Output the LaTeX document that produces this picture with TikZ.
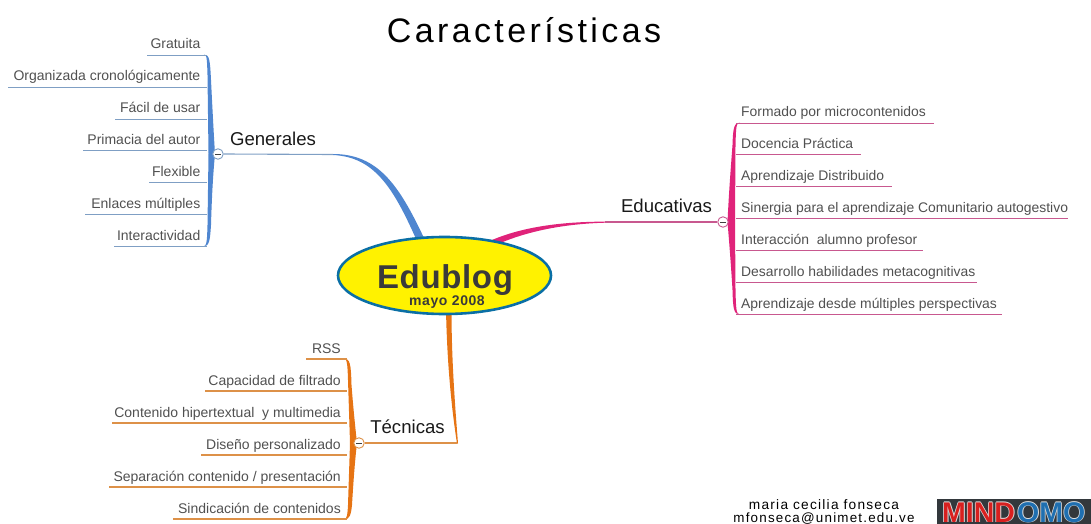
\documentclass[tikz,border=0pt]{standalone}
\usepackage{fontspec}
\usetikzlibrary{shapes.geometric}
\setmainfont{Liberation Sans}
\newfontfamily\titlefont[LetterSpace=10]{Liberation Sans}
\newfontfamily\edufont[LetterSpace=2,BoldFont={Liberation Sans Bold}]{Liberation Sans}
\newfontfamily\mayofont[LetterSpace=4,BoldFont={Liberation Sans Bold}]{Liberation Sans}
\newfontfamily\authorfont[LetterSpace=9]{Liberation Sans}
\definecolor{gblue}{HTML}{4F86D0}
\definecolor{gbluel}{HTML}{7F9FC4}
\definecolor{epink}{HTML}{E0237A}
\definecolor{epinkl}{HTML}{C8588F}
\definecolor{torange}{HTML}{E67414}
\definecolor{torangel}{HTML}{DD9148}
\definecolor{txtgray}{HTML}{505050}
\definecolor{centretxt}{HTML}{3A3A3A}
\definecolor{teal2}{HTML}{0A6FA5}
\definecolor{logobg}{HTML}{33383C}
\definecolor{logored}{HTML}{D8201F}
\definecolor{logoblue}{HTML}{1F6FB0}
\tikzset{
 itemr/.style={anchor=base east,text=txtgray,inner sep=0pt,font=\fontsize{14}{16}\selectfont},
 iteml/.style={anchor=base west,text=txtgray,inner sep=0pt,font=\fontsize{13.9}{16}\selectfont},
 topic/.style={anchor=base,text=black!90,inner sep=0pt,font=\fontsize{18.6}{21}\selectfont},
 collapse/.style={circle,draw=#1,fill=white,line width=0.9pt,minimum size=10.5pt,inner sep=0pt},
 logotext/.style={anchor=base west,inner sep=0pt,font=\fontsize{28.5}{30}\bfseries\selectfont},
}
\newcommand{\collapsemark}{\textcolor{black!75}{\rule{5.5pt}{1pt}}}
\begin{document}
\begin{tikzpicture}[x=1pt,y=-1pt]
\useasboundingbox (0,0) rectangle (1091,524);
\node[inner sep=0pt,anchor=base,font=\fontsize{34}{38}\titlefont\selectfont] (title) at (524,42.5) {Características};
% ---------- Generales
\fill[gblue] (333,155) .. controls (374,157) and (393,187) .. (416.5,240) -- (424,238) .. controls (399,185) and (378,154) .. (333,154) -- cycle;
\fill[gblue] (204,54.6) .. controls (207,54.6) and (207,60) .. (207.5,75) -- (208.5,154) -- (207.5,225) .. controls (207,240) and (207,246.6) .. (203,246.6) .. controls (209.5,246.6) and (210,240) .. (211,225) .. controls (212,190) and (213.5,170) .. (215,154) .. controls (213.5,130) and (212,100) .. (211,80) .. controls (210,60) and (209.5,54.6) .. (204,54.6) -- cycle;
\node[collapse=gbluel] (cg) at (218,154) {\collapsemark};
\coordinate (cgb) at (333,154.5);
\draw[gbluel,line width=1.1pt] (cg.east) -- (cgb);
\node[topic] (tg) at (273,145) {Generales};
\foreach \n/\t/\yb/\xl in {g1/Gratuita/49/147,g2/Organizada cronológicamente/81/8,g3/Fácil de usar/113/115,g4/Primacia del autor/144.5/83,g5/Flexible/176.5/149,g6/Enlaces múltiples/208.5/85,g7/Interactividad/240/114}{
 \node[itemr] (\n) at (200.5,\yb) {\t};
 \coordinate (\n l) at (\xl,\yb+6.2);
 \coordinate (\n r) at (207,\yb+6.2);
 \draw[gbluel,line width=1.1pt] (\n l) -- (\n r);
}
% ---------- Educativas
\fill[epink] (609,221.6) .. controls (565,221.5) and (525,226) .. (492,240) -- (498,244) .. controls (528,231) and (565,223.5) .. (609,222.6) -- cycle;
\fill[epink] (740,122.6) .. controls (736,122.6) and (736,128) .. (735.5,145) -- (735,222) -- (735.5,290) .. controls (736,308) and (736,314.6) .. (740,314.6) .. controls (733.5,314.6) and (733,308) .. (732.5,290) .. controls (731,265) and (729,240) .. (727.5,222) .. controls (729,190) and (731,165) .. (732.5,145) .. controls (733,128) and (734,122.6) .. (740,122.6) -- cycle;
\node[collapse=epinkl] (ce) at (723,222) {\collapsemark};
\coordinate (ceb) at (605,222);
\draw[epinkl,line width=1.1pt] (ce.west) -- (ceb);
\node[topic] (te) at (666.5,212.5) {Educativas};
\foreach \n/\t/\yb/\xr in {e1/Formado por microcontenidos/116.5/934,e2/Docencia Práctica/148/861,e3/Aprendizaje Distribuido/180/892,e4/Sinergia para el aprendizaje Comunitario autogestivo/212/1068,e5/Interacción~ alumno profesor/244/923,e6/Desarrollo habilidades metacognitivas/276/977,e7/Aprendizaje desde múltiples perspectivas/308/1002}{
 \node[iteml] (\n) at (741,\yb) {\t};
 \coordinate (\n l) at (736,\yb+6.6);
 \coordinate (\n r) at (\xr,\yb+6.6);
 \draw[epinkl,line width=1.1pt] (\n l) -- (\n r);
}
% ---------- Técnicas
\fill[torange] (446,310) .. controls (447,360) and (451,405) .. (457,443.5) -- (458,443.5) .. controls (455,405) and (451.5,360) .. (451.5,310) -- cycle;
\fill[torange] (344,358.6) .. controls (347,358.6) and (347.5,364) .. (348,380) -- (350,443) -- (348,505) .. controls (347.5,514) and (347,519.6) .. (344,519.6) .. controls (350,519.6) and (351,514) .. (352,505) .. controls (353.5,480) and (355,460) .. (357,443) .. controls (355,425) and (353,405) .. (351.5,385) .. controls (351,364) and (350,358.6) .. (344,358.6) -- cycle;
\node[collapse=torangel] (ct) at (359,443) {\collapsemark};
\coordinate (ctb) at (457,443);
\draw[torangel,line width=1.1pt] (ct.east) -- (ctb);
\node[topic] (tt) at (407.5,433) {Técnicas};
\foreach \n/\t/\yb/\xl in {t1/RSS/353/306,t2/Capacidad de filtrado/385/205,t3/Contenido hipertextual~ y multimedia/417/112,t4/Diseño personalizado/449/201,{t5}/{Separación contenido / presentación}/481/109,t6/Sindicación de contenidos/513/173}{
 \node[itemr] (\n) at (341,\yb) {\t};
 \coordinate (\n l) at (\xl,\yb+6);
 \coordinate (\n r) at (347,\yb+6);
 \draw[torangel,line width=1.1pt] (\n l) -- (\n r);
}
% ---------- Centre
\node[ellipse,draw=teal2,fill=yellow,line width=2.6pt,minimum width=213pt,minimum height=77pt,inner sep=0pt] (centre) at (444.5,275.5) {};
\node[inner sep=0pt,anchor=base,text=centretxt,font=\fontsize{33}{36}\edufont\bfseries\selectfont] (edu) at (445,288) {Edublog};
\node[inner sep=0pt,anchor=base,text=centretxt,font=\fontsize{14}{16}\mayofont\bfseries\selectfont] (mayo) at (447,305) {mayo 2008};
% ---------- Footer
\node[inner sep=0pt,anchor=base,font=\fontsize{13.7}{15}\authorfont\selectfont] (autor) at (824,509) {maria cecilia fonseca};
\node[inner sep=0pt,anchor=base,font=\fontsize{13.4}{15}\authorfont\selectfont] (mail) at (824,522.5) {mfonseca@unimet.edu.ve};
\fill[logobg] (937,499) rectangle (1091,524);
\foreach \dx/\dy in {-0.8/0,0.8/0,0/-0.8}{
 \node[logotext,text=white!75!gray] at (942+\dx,522.6+\dy) {MIND};
 \node[logotext,text=white!75!gray] at (1017+\dx,522.6+\dy) {OMO};
}
\node[logotext,text=logored] (lm) at (942,522.6) {MIND};
\node[logotext,text=logoblue] (lo) at (1017,522.6) {OMO};
\end{tikzpicture}
\end{document}
